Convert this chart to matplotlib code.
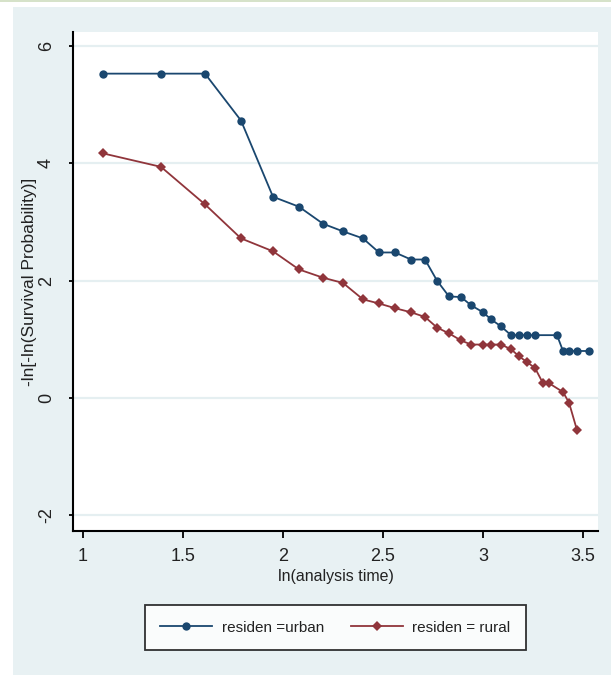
import matplotlib
matplotlib.use("Agg")
import matplotlib.pyplot as plt
from matplotlib.patches import Rectangle
from matplotlib.lines import Line2D

# ---- data ----
urban_x = [1.10, 1.39, 1.61, 1.79, 1.95, 2.08, 2.20, 2.30, 2.40, 2.48, 2.56, 2.64,
           2.71, 2.77, 2.83, 2.89, 2.94, 3.00, 3.04, 3.09, 3.14, 3.18, 3.22, 3.26,
           3.37, 3.40, 3.43, 3.47, 3.53]
urban_y = [5.53, 5.53, 5.53, 4.73, 3.43, 3.26, 2.97, 2.84, 2.72, 2.48, 2.48, 2.36,
           2.36, 2.00, 1.73, 1.72, 1.58, 1.46, 1.34, 1.22, 1.07, 1.07, 1.07, 1.07,
           1.07, 0.80, 0.80, 0.80, 0.80]

rural_x = [1.10, 1.39, 1.61, 1.79, 1.95, 2.08, 2.20, 2.30, 2.40, 2.48, 2.56, 2.64,
           2.71, 2.77, 2.83, 2.89, 2.94, 3.00, 3.04, 3.09, 3.14, 3.18, 3.22, 3.26,
           3.30, 3.33, 3.40, 3.43, 3.47]
rural_y = [4.17, 3.94, 3.30, 2.72, 2.50, 2.19, 2.05, 1.96, 1.68, 1.61, 1.53, 1.46,
           1.38, 1.20, 1.10, 0.98, 0.91, 0.91, 0.91, 0.91, 0.83, 0.71, 0.61, 0.51,
           0.25, 0.25, 0.10, -0.08, -0.55]

x_ticks = [1, 1.5, 2, 2.5, 3, 3.5]
x_ticklabels = ["1", "1.5", "2", "2.5", "3", "3.5"]
y_ticks = [-2, 0, 2, 4, 6]
y_ticklabels = ["-2", "0", "2", "4", "6"]
series_labels = ["residen =urban", "residen = rural"]
x_label = "ln(analysis time)"
y_label = "-ln[-ln(Survival Probability)]"

# ---- style ----
FONT = ["Liberation Sans", "DejaVu Sans"]
plt.rcParams["font.family"] = FONT
BLUE = "#1a476f"
RED = "#90353b"
BG = "#e8f1f3"
GRID = "#e5eff1"
TXT = "#222222"

W, H = 611, 675
fig = plt.figure(figsize=(W / 100, H / 100), dpi=100)
fig.patch.set_facecolor("white")

# outer graph region (drawn behind the axes)
bg = Rectangle((13 / W, 0), 1 - 13 / W, 1 - 7 / H, transform=fig.transFigure,
               facecolor=BG, edgecolor="none", zorder=-10)
fig.add_artist(bg)
top = Rectangle((0, 1 - 2 / H), 1, 2 / H, transform=fig.transFigure,
                facecolor="#d6e2c9", edgecolor="none", zorder=-10)
fig.add_artist(top)

ax = fig.add_axes([73 / W, 1 - 531 / H, (598 - 73) / W, (531 - 32) / H])
ax.set_zorder(1)
ax.set_facecolor("white")
ax.set_xlim(0.95, 3.575)
ax.set_ylim(-2.27, 6.24)

for s in ["top", "right"]:
    ax.spines[s].set_visible(False)
for s in ["left", "bottom"]:
    ax.spines[s].set_color("black")
    ax.spines[s].set_linewidth(1.5)

ax.set_yticks(y_ticks)
ax.set_yticklabels(y_ticklabels, rotation=90, va="center", ha="right")
ax.set_xticks(x_ticks)
ax.set_xticklabels(x_ticklabels)
ax.tick_params(axis="x", length=5, width=1.3, pad=7, labelsize=13, colors="black")
ax.tick_params(axis="y", length=3, width=1.3, pad=10, labelsize=13, colors="black")
for t in ax.get_xticklabels() + ax.get_yticklabels():
    t.set_color(TXT)

ax.grid(axis="y", color=GRID, linewidth=1.6)
ax.set_axisbelow(True)

ax.plot(urban_x, urban_y, color=BLUE, lw=1.3, marker="o", ms=6,
        markeredgewidth=0, zorder=3)
ax.plot(rural_x, rural_y, color=RED, lw=1.3, marker="D", ms=5.5,
        markeredgewidth=0, zorder=3)

ax.set_xlabel(x_label, fontsize=11.5, color=TXT, labelpad=3)
ax.set_ylabel(y_label, fontsize=12.5, color=TXT)
ax.yaxis.set_label_coords(-0.068, 0.5)

handles = [Line2D([], [], color=BLUE, lw=1.3, marker="o", ms=6, markeredgewidth=0),
           Line2D([], [], color=RED, lw=1.3, marker="D", ms=5.5, markeredgewidth=0)]
leg = fig.legend(handles, series_labels, loc="center",
                 bbox_to_anchor=((148 + 523) / 2 / W, 1 - (605 + 650) / 2 / H),
                 ncol=2, frameon=True, fancybox=False, fontsize=11,
                 handlelength=3.4, columnspacing=1.8, borderpad=1.0,
                 handletextpad=0.6)
leg.get_frame().set_edgecolor("black")
leg.get_frame().set_linewidth(1.3)
leg.get_frame().set_facecolor("white")
for t in leg.get_texts():
    t.set_color(TXT)

fig.savefig("out.png", dpi=100, facecolor=fig.get_facecolor())
